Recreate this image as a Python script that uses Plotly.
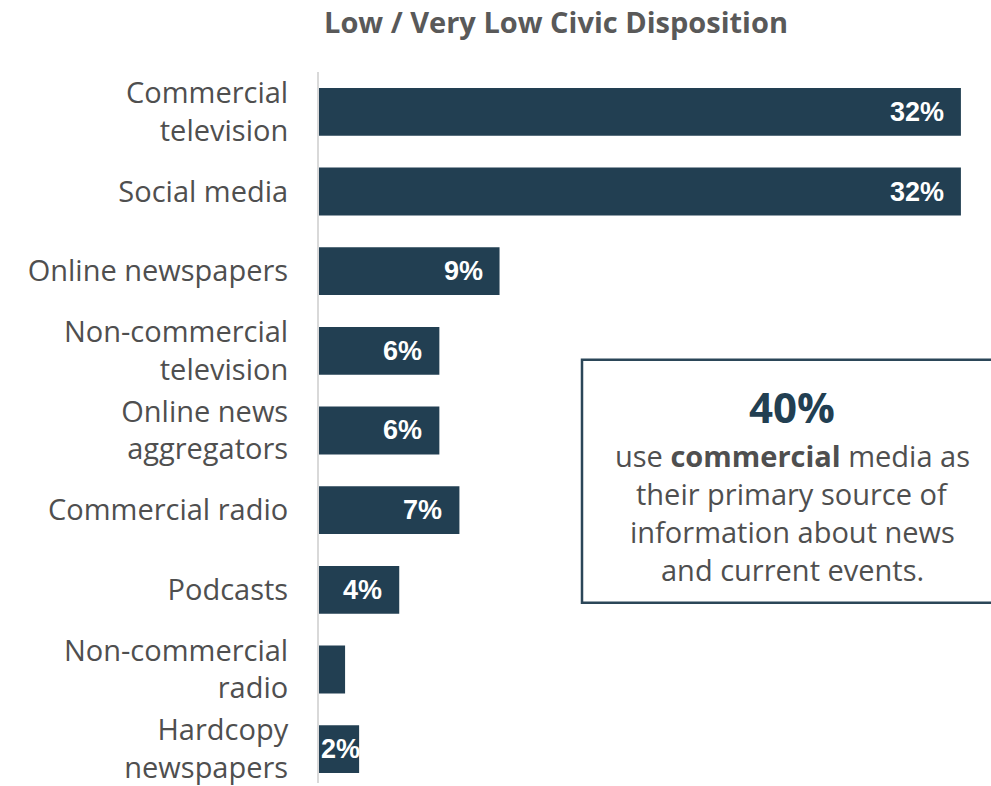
import plotly.graph_objects as go

# Primary news source among respondents with low / very low civic disposition
categories = [
    "Commercial<br>television",
    "Social media",
    "Online newspapers",
    "Non-commercial<br>television",
    "Online news<br>aggregators",
    "Commercial radio",
    "Podcasts",
    "Non-commercial<br>radio",
    "Hardcopy<br>newspapers",
]
values = [32, 32, 9, 6, 6, 7, 4, 1.3, 2]
labels = ["32%", "32%", "9%", "6%", "6%", "7%", "4%", "", "2%"]

callout_headline = "40%"
callout_lines = [
    "use <b>commercial</b> media as",
    "their primary source of",
    "information about news",
    "and current events.",
]

BAR = "#223F52"
TEXT = "#4f4f4f"

W, H = 991, 786
ML, MT = 319, 72
plot_w = W - ML
plot_h = H - MT
x_max = 33.5
px_per_unit = plot_w / x_max

fig = go.Figure(
    go.Bar(
        x=values,
        y=categories,
        orientation="h",
        marker=dict(color=BAR, line=dict(width=0)),
        width=0.6,
        hoverinfo="skip",
    )
)

# value labels placed inside each bar's end
LABEL_FONT = dict(family="Liberation Sans", size=27, color="white")
annotations = []
for cat, v, lab in zip(categories, values, labels):
    if not lab:
        continue
    bar_px = v * px_per_unit
    text_px = 17 * len(lab)
    if bar_px - 15 >= text_px:
        annotations.append(dict(x=v, y=cat, xref="x", yref="y", text=f"<b>{lab}</b>",
                                showarrow=False, xanchor="right", xshift=-15, font=LABEL_FONT))
    else:
        annotations.append(dict(x=0, y=cat, xref="x", yref="y", text=f"<b>{lab}</b>",
                                showarrow=False, xanchor="left", xshift=0, font=LABEL_FONT))

def py(ypix):
    return (H - ypix) / plot_h

def px(xpix):
    return (xpix - ML) / plot_w

# callout box
cx = px(792)
annotations.append(dict(x=cx, y=py(408), xref="paper", yref="paper", text=f"<b>{callout_headline}</b>",
                        showarrow=False, xanchor="center", yanchor="middle",
                        font=dict(family="Open Sans", size=42, color=BAR)))
for i, line in enumerate(callout_lines):
    annotations.append(dict(x=cx, y=py(457 + 38.3 * i), xref="paper", yref="paper", text=line,
                            showarrow=False, xanchor="center", yanchor="middle",
                            font=dict(family="Open Sans", size=29, color=TEXT)))

shapes = [
    dict(type="rect", xref="paper", yref="paper", x0=px(582), x1=px(1000),
         y0=py(605), y1=py(361), line=dict(color="#2b4658", width=2.5),
         fillcolor="rgba(0,0,0,0)", layer="above"),
]

fig.update_layout(
    width=W,
    height=H,
    margin=dict(l=ML, r=0, t=MT, b=0),
    paper_bgcolor="white",
    plot_bgcolor="white",
    showlegend=False,
    title=dict(text="<b>Low / Very Low Civic Disposition</b>", x=556 / W, xanchor="center",
               y=1 - 23 / H, yanchor="middle",
               font=dict(family="Open Sans", size=29, color="#595959")),
    xaxis=dict(range=[0, x_max], visible=False, fixedrange=True),
    yaxis=dict(
        categoryorder="array",
        categoryarray=categories,
        range=[plot_h / 80 - 0.5, -0.5],
        showline=True,
        linecolor="#d9d9d9",
        linewidth=2,
        ticks="",
        showgrid=False,
        ticklabelstandoff=23,
        tickfont=dict(family="Open Sans", size=29, color=TEXT),
    ),
    annotations=annotations,
    shapes=shapes,
)

fig.write_html("out.html")
